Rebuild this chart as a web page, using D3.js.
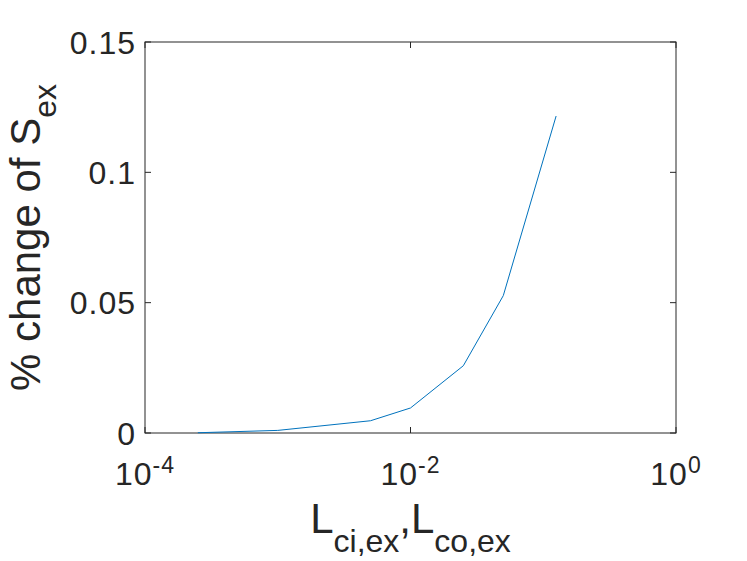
<!DOCTYPE html>
<html>
<head>
<meta charset="utf-8">
<script src="https://cdn.jsdelivr.net/npm/d3@7"></script>
<style>
  body { margin: 0; background: #fff; }
  text { font-family: Helvetica, Arial, "Liberation Sans", sans-serif; fill: #262626; }
</style>
</head>
<body>
<div id="chart"></div>
<script>
// data
var lengths = [2.5e-4, 1e-3, 5e-3, 1e-2, 2.5e-2, 5e-2, 0.125];
var changes = [0.0001, 0.001, 0.0047, 0.0096, 0.0258, 0.0527, 0.1216];
var xTicks = [1e-4, 1e-2, 1];
var xTickExp = ["-4", "-2", "0"];
var yTicks = [0, 0.05, 0.1, 0.15];
var yTickLabels = ["0", "0.05", "0.1", "0.15"];

var width = 747, height = 561;
var plotL = 145, plotR = 676, plotT = 42, plotB = 433;
var axisColor = "#262626";

var svg = d3.select("#chart").append("svg")
  .attr("width", width)
  .attr("height", height);

var x = d3.scaleLog().domain([1e-4, 1]).range([plotL, plotR]);
var y = d3.scaleLinear().domain([0, 0.15]).range([plotB, plotT]);

var tickLen = 6;

// box
svg.append("rect")
  .attr("x", plotL).attr("y", plotT)
  .attr("width", plotR - plotL).attr("height", plotB - plotT)
  .attr("fill", "none").attr("stroke", axisColor).attr("stroke-width", 1);

// y ticks, both sides, inward
var yt = svg.append("g").selectAll("g").data(yTicks).enter().append("g");
yt.append("line")
  .attr("x1", plotL).attr("x2", plotL + tickLen)
  .attr("y1", function(d) { return y(d); }).attr("y2", function(d) { return y(d); })
  .attr("stroke", axisColor);
yt.append("line")
  .attr("x1", plotR).attr("x2", plotR - tickLen)
  .attr("y1", function(d) { return y(d); }).attr("y2", function(d) { return y(d); })
  .attr("stroke", axisColor);
yt.append("text")
  .attr("x", plotL - 9)
  .attr("y", function(d) { return y(d) + 11.5; })
  .attr("text-anchor", "end")
  .style("font-size", "32px")
  .style("letter-spacing", "1px")
  .text(function(d, i) { return yTickLabels[i]; });

// x ticks, top and bottom
var xt = svg.append("g").selectAll("g").data(xTicks).enter().append("g");
xt.append("line")
  .attr("x1", function(d) { return x(d); }).attr("x2", function(d) { return x(d); })
  .attr("y1", plotB).attr("y2", plotB - tickLen)
  .attr("stroke", axisColor);
xt.append("line")
  .attr("x1", function(d) { return x(d); }).attr("x2", function(d) { return x(d); })
  .attr("y1", plotT).attr("y2", plotT + tickLen)
  .attr("stroke", axisColor);
var xl = xt.append("text")
  .attr("x", function(d) { return x(d); })
  .attr("y", 485)
  .attr("text-anchor", "middle")
  .style("font-size", "32px")
  .style("letter-spacing", "1px");
xl.append("tspan").text("10");
xl.append("tspan")
  .attr("dy", -12)
  .style("font-size", "23px")
  .text(function(d, i) { return xTickExp[i]; });

// the line
var line = d3.line()
  .x(function(d, i) { return x(lengths[i]); })
  .y(function(d) { return y(d); });

svg.append("path")
  .datum(changes)
  .attr("d", line)
  .attr("fill", "none")
  .attr("stroke", "#0072BD")
  .attr("stroke-width", 1);

// x label
var xlab = svg.append("text")
  .attr("x", (plotL + plotR) / 2)
  .attr("y", 533)
  .attr("text-anchor", "middle")
  .style("font-size", "42px");
xlab.append("tspan").text("L");
xlab.append("tspan").attr("dy", 19).style("font-size", "32px").text("ci,ex");
xlab.append("tspan").attr("dy", -19).text(",L");
xlab.append("tspan").attr("dy", 19).style("font-size", "32px").text("co,ex");

// y label
var ylab = svg.append("text")
  .attr("transform", "translate(40," + ((plotT + plotB) / 2) + ") rotate(-90)")
  .attr("text-anchor", "middle")
  .style("font-size", "42px");
ylab.append("tspan").text("% change of S");
ylab.append("tspan").attr("dy", 16).style("font-size", "32px").text("ex");
</script>
</body>
</html>
